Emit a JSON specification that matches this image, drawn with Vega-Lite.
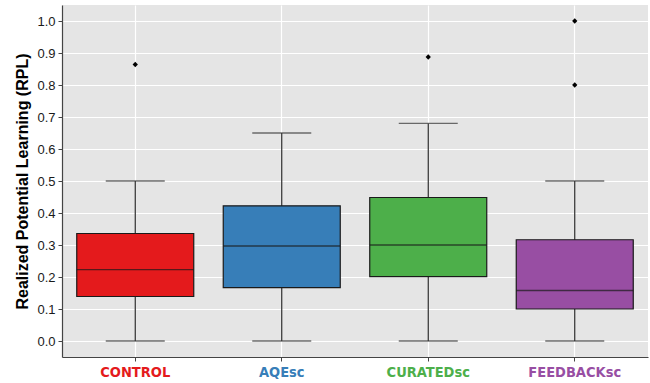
{
  "$schema": "https://vega.github.io/schema/vega-lite/v6.json",
  "autosize": {"type": "none"},
  "padding": {"left": 62, "top": 5, "right": 2, "bottom": 26},
  "width": 586,
  "height": 352,
  "background": "white",
  "config": {
    "view": {"fill": "#E5E5E5", "stroke": null},
    "axis": {
      "gridColor": "white",
      "gridWidth": 1.2,
      "domainColor": "#444444",
      "domainWidth": 1.2,
      "tickColor": "#444444",
      "tickSize": 4,
      "labelFont": "Liberation Sans",
      "labelFontSize": 13,
      "labelColor": "#1a1a1a",
      "titleFont": "Liberation Sans",
      "titleFontSize": 16,
      "titleFontWeight": "bold",
      "titleColor": "black"
    }
  },
  "datasets": {
    "boxes": [
      {"group": "CONTROL", "lower": 0.0, "q1": 0.139, "median": 0.223, "q3": 0.336, "upper": 0.5},
      {"group": "AQE", "lower": 0.0, "q1": 0.1665, "median": 0.297, "q3": 0.4225, "upper": 0.65},
      {"group": "CURATED", "lower": 0.0, "q1": 0.201, "median": 0.3, "q3": 0.4485, "upper": 0.68},
      {"group": "FEEDBACK", "lower": 0.0, "q1": 0.1, "median": 0.158, "q3": 0.3164, "upper": 0.5}
    ],
    "outliers": [
      {"group": "CONTROL", "value": 0.864},
      {"group": "CURATED", "value": 0.8875},
      {"group": "FEEDBACK", "value": 1.0},
      {"group": "FEEDBACK", "value": 0.8}
    ]
  },
  "encoding": {
    "x": {
      "field": "group",
      "type": "nominal",
      "sort": ["CONTROL", "AQE", "CURATED", "FEEDBACK"],
      "scale": {"paddingInner": 0, "paddingOuter": 0},
      "axis": {
        "title": null,
        "grid": true,
        "bandPosition": 0.5,
        "labelAngle": 0,
        "labelFont": "DejaVu Sans Condensed, DejaVu Sans",
        "labelFontWeight": "bold",
        "labelFontSize": 14.5,
        "labelPadding": 4,
        "labelExpr": "datum.value == 'CONTROL' ? 'CONTROL' : datum.value + 'ꜱᴄ'",
        "labelColor": {
          "condition": [
            {"test": "datum.value == 'CONTROL'", "value": "#E41A1C"},
            {"test": "datum.value == 'AQE'", "value": "#377EB8"},
            {"test": "datum.value == 'CURATED'", "value": "#4DAF4A"}
          ],
          "value": "#984EA3"
        }
      }
    }
  },
  "layer": [
    {
      "data": {"name": "boxes"},
      "mark": {"type": "rule", "color": "#1a1a1a", "strokeWidth": 1.1},
      "encoding": {
        "y": {
          "field": "lower",
          "type": "quantitative",
          "scale": {"domain": [-0.05, 1.05], "nice": false, "zero": false},
          "axis": {"title": "Realized Potential Learning (RPL)", "values": [0, 0.1, 0.2, 0.3, 0.4, 0.5, 0.6, 0.7, 0.8, 0.9, 1.0], "format": ".1f", "grid": true, "labelPadding": 3, "titlePadding": 6, "labelOverlap": false}
        },
        "y2": {"field": "upper"}
      }
    },
    {
      "data": {"name": "boxes"},
      "mark": {"type": "tick", "color": "#333333", "size": 59, "thickness": 1.3},
      "encoding": {"y": {"field": "lower", "type": "quantitative", "axis": {"title": "Realized Potential Learning (RPL)", "values": [0, 0.1, 0.2, 0.3, 0.4, 0.5, 0.6, 0.7, 0.8, 0.9, 1.0], "format": ".1f", "grid": true, "labelPadding": 3, "titlePadding": 6, "labelOverlap": false}}}
    },
    {
      "data": {"name": "boxes"},
      "mark": {"type": "tick", "color": "#333333", "size": 59, "thickness": 1.3},
      "encoding": {"y": {"field": "upper", "type": "quantitative", "axis": {"title": "Realized Potential Learning (RPL)", "values": [0, 0.1, 0.2, 0.3, 0.4, 0.5, 0.6, 0.7, 0.8, 0.9, 1.0], "format": ".1f", "grid": true, "labelPadding": 3, "titlePadding": 6, "labelOverlap": false}}}
    },
    {
      "data": {"name": "boxes"},
      "mark": {"type": "bar", "size": 117, "stroke": "#1a1a1a", "strokeWidth": 1.2},
      "encoding": {
        "y": {"field": "q1", "type": "quantitative", "axis": {"title": "Realized Potential Learning (RPL)", "values": [0, 0.1, 0.2, 0.3, 0.4, 0.5, 0.6, 0.7, 0.8, 0.9, 1.0], "format": ".1f", "grid": true, "labelPadding": 3, "titlePadding": 6, "labelOverlap": false}},
        "y2": {"field": "q3"},
        "color": {
          "field": "group",
          "type": "nominal",
          "scale": {
            "domain": ["CONTROL", "AQE", "CURATED", "FEEDBACK"],
            "range": ["#E41A1C", "#377EB8", "#4DAF4A", "#984EA3"]
          },
          "legend": null
        }
      }
    },
    {
      "data": {"name": "boxes"},
      "mark": {"type": "tick", "color": "#1a1a1a", "size": 117, "thickness": 1.4},
      "encoding": {"y": {"field": "median", "type": "quantitative", "axis": {"title": "Realized Potential Learning (RPL)", "values": [0, 0.1, 0.2, 0.3, 0.4, 0.5, 0.6, 0.7, 0.8, 0.9, 1.0], "format": ".1f", "grid": true, "labelPadding": 3, "titlePadding": 6, "labelOverlap": false}}}
    },
    {
      "data": {"name": "outliers"},
      "mark": {"type": "point", "shape": "diamond", "filled": true, "color": "black", "size": 28, "opacity": 1},
      "encoding": {"y": {"field": "value", "type": "quantitative", "axis": {"title": "Realized Potential Learning (RPL)", "values": [0, 0.1, 0.2, 0.3, 0.4, 0.5, 0.6, 0.7, 0.8, 0.9, 1.0], "format": ".1f", "grid": true, "labelPadding": 3, "titlePadding": 6, "labelOverlap": false}}}
    }
  ]
}
